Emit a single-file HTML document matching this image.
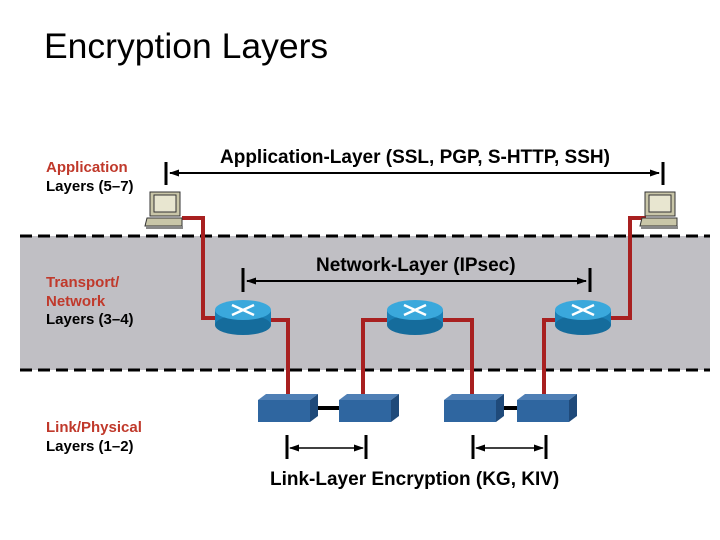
<html><head><style>
body{margin:0;width:720px;height:540px;background:#fff;position:relative;overflow:hidden;font-family:"Liberation Sans",sans-serif}
.t{position:absolute;font-weight:bold;font-size:15px;line-height:18.5px}
.r{color:#c0392b}
</style></head><body>
<div style="position:absolute;left:44px;top:26px;font-size:35.5px">Encryption Layers</div>
<svg width="720" height="540" style="position:absolute;left:0;top:0">
<defs>
<marker id="a" markerUnits="userSpaceOnUse" markerWidth="10" markerHeight="7" refX="9" refY="3.5" orient="auto-start-reverse"><path d="M0,0L10,3.5L0,7z" fill="#000"/></marker>
</defs>
<rect x="20" y="236" width="690" height="134" fill="#c0bfc4"/>
<line x1="20" y1="236" x2="710" y2="236" stroke="#000" stroke-width="3" stroke-dasharray="12,6"/>
<line x1="20" y1="370" x2="710" y2="370" stroke="#000" stroke-width="3" stroke-dasharray="12,6"/>
<g stroke="#000" stroke-width="3">
<line x1="166" y1="162" x2="166" y2="185"/><line x1="663" y1="162" x2="663" y2="185"/>
<line x1="243" y1="268" x2="243" y2="292"/><line x1="590" y1="268" x2="590" y2="292"/>
<line x1="287" y1="435" x2="287" y2="459"/><line x1="366" y1="435" x2="366" y2="459"/>
<line x1="473" y1="435" x2="473" y2="459"/><line x1="546" y1="435" x2="546" y2="459"/>
</g>
<g stroke="#000" stroke-width="2" marker-start="url(#a)" marker-end="url(#a)">
<line x1="170" y1="173" x2="659" y2="173"/>
<line x1="247" y1="281" x2="586" y2="281"/>
<line x1="290" y1="448" x2="363" y2="448" stroke-width="1.5"/>
<line x1="476" y1="448" x2="543" y2="448" stroke-width="1.5"/>
</g>
<g fill="none" stroke="#a82020" stroke-width="4">
<polyline points="182,218 203,218 203,318 216,318"/>
<polyline points="646,218 630,218 630,318 610,318"/>
<polyline points="270,320 288,320 288,398"/>
<polyline points="390,320 363,320 363,398"/>
<polyline points="442,320 472,320 472,398"/>
<polyline points="558,320 544,320 544,398"/>
</g>
<g stroke="#000" stroke-width="4"><line x1="310" y1="408" x2="340" y2="408"/><line x1="500" y1="408" x2="518" y2="408"/></g>
<g id="b">
<polygon points="258,400 266,394 318,394 310,400" fill="#4f7fb5"/>
<polygon points="310,400 318,394 318,416 310,422" fill="#1f4a7a"/>
<rect x="258" y="400" width="52" height="22" fill="#2f66a0"/>
</g>
<use href="#b" x="81"/><use href="#b" x="186"/><use href="#b" x="259"/>
<g id="rt">
<rect x="215" y="310" width="56" height="15" fill="#1a7fb5"/>
<ellipse cx="243" cy="325" rx="28" ry="10" fill="#156c9c"/>
<ellipse cx="243" cy="310" rx="28" ry="10" fill="#3aa8dc"/>
<g stroke="#fff" stroke-width="2.5"><line x1="232" y1="305" x2="254" y2="315"/><line x1="254" y1="305" x2="232" y2="315"/></g>
</g>
<use href="#rt" x="172"/><use href="#rt" x="340"/>
<g id="pc">
<rect x="150" y="192" width="30" height="24" fill="#c9c6a8" stroke="#333"/>
<rect x="154" y="195" width="22" height="17" fill="#e8e6d0" stroke="#333"/>
<polygon points="147,218 182,218 182,226 145,226" fill="#c9c6a8" stroke="#333"/>
<rect x="146" y="226" width="37" height="3" fill="#888"/>
</g>
<use href="#pc" x="495"/>
</svg>
<div class="t" style="left:220px;top:149px;font-size:19px">Application-Layer (SSL, PGP, S-HTTP, SSH)</div>
<div class="t" style="left:316px;top:257px;font-size:19px">Network-Layer (IPsec)</div>
<div class="t" style="left:270px;top:471px;font-size:19px">Link-Layer Encryption (KG, KIV)</div>
<div class="t" style="left:46px;top:159px"><span class="r">Application</span><br>Layers (5–7)</div>
<div class="t" style="left:46px;top:274px"><span class="r">Transport/<br>Network</span><br>Layers (3–4)</div>
<div class="t" style="left:46px;top:419px"><span class="r">Link/Physical</span><br>Layers (1–2)</div>
</body></html>
